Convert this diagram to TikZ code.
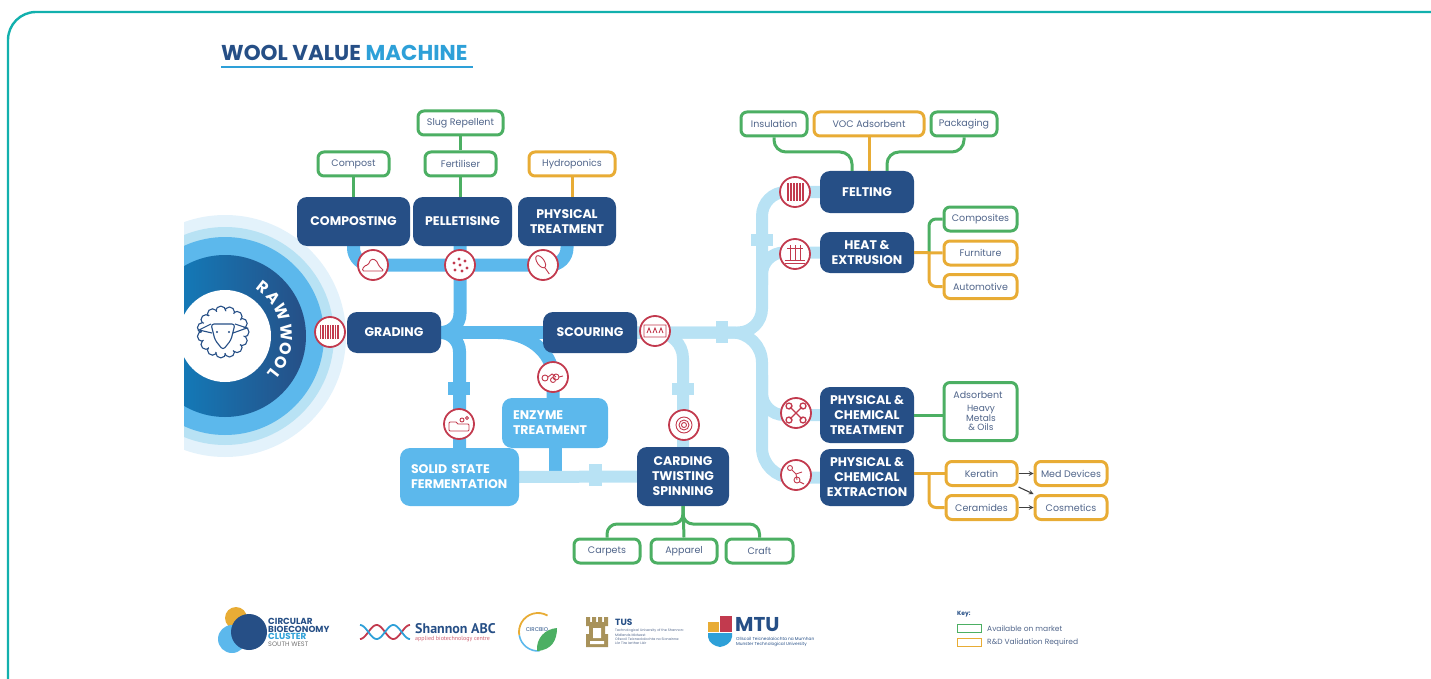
\documentclass[tikz,border=0pt]{standalone}
\usepackage{fontspec}
\setmainfont{Poppins}
\newfontfamily\logofont{PT Sans}
\usetikzlibrary{backgrounds,calc}
\definecolor{frameteal}{HTML}{12B0AD}
\definecolor{stepnavy}{HTML}{264F86}
\definecolor{pipemid}{HTML}{5CB8EC}
\definecolor{pipelight}{HTML}{B8E2F4}
\definecolor{ringpale}{HTML}{E3F2FB}
\definecolor{ringbright}{HTML}{0E86C6}
\definecolor{goodgreen}{HTML}{4CAF63}
\definecolor{rdorange}{HTML}{E8AC35}
\definecolor{iconred}{HTML}{C23A4E}
\definecolor{prodtext}{HTML}{50658A}
\definecolor{titleblue}{HTML}{2EA0D8}
\definecolor{tusgold}{HTML}{A8925A}
\tikzset{
  stepbox/.style={fill=stepnavy,rounded corners=10,text=white,align=center,inner sep=0,font=\fontsize{12.5}{15}\selectfont\bfseries},
  lightbox/.style={fill=pipemid,rounded corners=10,text=white,align=left,inner sep=0,font=\fontsize{12.5}{15}\selectfont\bfseries},
  goodbox/.style={draw=goodgreen,fill=white,line width=3,rounded corners=6,minimum width=#1,minimum height=24,text=prodtext,align=center,inner sep=0,font=\fontsize{9.5}{11}\selectfont},
  rdbox/.style={goodbox=#1,draw=rdorange},
  iconring/.style={draw=iconred,fill=white,line width=1.8,circle,minimum size=30,inner sep=0},
  iconink/.style={draw=iconred,line width=0.9},
  pipeA/.style={draw=pipemid,line width=13},
  pipeB/.style={draw=pipelight,line width=12},
  flangeA/.style={fill=pipemid,minimum width=#1,inner sep=0},
  flangeB/.style={fill=pipelight,minimum width=#1,inner sep=0},
  goodline/.style={draw=goodgreen,line width=3},
  rdline/.style={draw=rdorange,line width=3},
  keyline/.style={draw=black!75,line width=1.1,-stealth},
  tiny/.style={inner sep=0,anchor=west,text=#1,align=left}
}
\begin{document}
\begin{tikzpicture}[x=1pt,y=-1pt]
\useasboundingbox (0,0) rectangle (1431,679);
% frame and title
\draw[frameteal,line width=2.4,rounded corners=28] (8,690) -- (8,12) -- (1440,12);
\node[anchor=west,inner sep=0,font=\fontsize{21.5}{24}\selectfont\bfseries] (title) at (221,53) {\textcolor{stepnavy}{WOOL VALUE} \textcolor{titleblue}{MACHINE}};
\coordinate (ruleL) at (221,67);
\coordinate (ruleR) at (473,67);
\draw[titleblue,line width=2] (ruleL) -- (ruleR);
% raw wool disc
\coordinate (woolc) at (225,336);
\begin{scope}
\clip (184,200) rectangle (360,470);
\fill[ringpale] (woolc) circle[radius=121];
\fill[pipelight] (woolc) circle[radius=109];
\fill[pipemid] (woolc) circle[radius=99];
\shade[left color=ringbright,right color=stepnavy] (woolc) circle[radius=81];
\fill[white] (woolc) circle[radius=46];
\end{scope}
\foreach \letter/\ang in {R/52,A/38,W/23,W/3,O/-12,O/-25,L/-38}
  \node[text=white,inner sep=0,rotate=\ang-90,font=\fontsize{16}{16}\selectfont\bfseries] at ($(woolc)+(\ang:62pt)$) {\letter};
% sheep
\coordinate (sheep) at (223,332);
\foreach \ang in {0,24,...,336}
  \draw[stepnavy,line width=1.1,fill=white] ($(sheep)+(\ang:21pt)$) circle[radius=5];
\fill[white] (sheep) circle[radius=21];
\draw[stepnavy,line width=1.1,fill=white,rounded corners=3] (211,324) -- (235,324) -- (231,340) -- (223,350) -- (215,340) -- cycle;
\draw[stepnavy,line width=1.1] (211,324) -- (199,330) -- (212,333);
\draw[stepnavy,line width=1.1] (235,324) -- (247,328) -- (233,333);
\fill[stepnavy] (217,332) circle[radius=1.1] (229,332) circle[radius=1.1];
% main steps
\node[stepbox,minimum width=113,minimum height=49] (composting) at (353.5,221.5) {COMPOSTING};
\node[stepbox,minimum width=99,minimum height=49] (pelletising) at (462.5,221.5) {PELLETISING};
\node[stepbox,minimum width=98,minimum height=49] (physical) at (567,221.5) {PHYSICAL\\TREATMENT};
\node[stepbox,minimum width=94,minimum height=41] (grading) at (394,332.5) {GRADING};
\node[stepbox,minimum width=94,minimum height=41] (scouring) at (590,332.5) {SCOURING};
\node[lightbox,minimum height=50,minimum width=106,text width=84] (enzyme) at (555,423) {ENZYME\\TREATMENT};
\node[lightbox,minimum height=58,minimum width=119,text width=97] (solid) at (459.5,477) {SOLID STATE\\FERMENTATION};
\node[stepbox,minimum width=92,minimum height=59] (carding) at (683,476.5) {CARDING\\TWISTING\\SPINNING};
\node[stepbox,minimum width=94,minimum height=42] (felting) at (867,192) {FELTING};
\node[stepbox,minimum width=94,minimum height=41] (heat) at (867,252.5) {HEAT \&\\EXTRUSION};
\node[stepbox,minimum width=94,minimum height=56] (ptreat) at (867,415) {PHYSICAL \&\\CHEMICAL\\TREATMENT};
\node[stepbox,minimum width=94,minimum height=57] (pextract) at (867,477.5) {PHYSICAL \&\\CHEMICAL\\EXTRACTION};
% products
\node[goodbox=71] (compost) at (353.5,164) {Compost};
\node[goodbox=71] (fertiliser) at (460.5,164) {Fertiliser};
\node[goodbox=85] (slug) at (460.5,123) {Slug Repellent};
\node[rdbox=86] (hydro) at (572,164) {Hydroponics};
\node[goodbox=66] (insulation) at (774,124) {Insulation};
\node[rdbox=110] (voc) at (869,124) {VOC Adsorbent};
\node[goodbox=66] (packaging) at (964,124) {Packaging};
\node[goodbox=73] (composites) at (980.5,219) {Composites};
\node[rdbox=73] (furniture) at (980.5,253) {Furniture};
\node[rdbox=73] (automotive) at (980.5,286.5) {Automotive};
\node[goodbox=73,minimum height=58] (adsorbent) at (980.5,411.5) {};
\node[inner sep=0,text=prodtext,font=\fontsize{9.5}{11}\selectfont] (adslabel) at (978,395) {Adsorbent};
\node[inner sep=0,text=prodtext,align=center,font=\fontsize{9}{8.5}\selectfont] (heavylabel) at (981,418) {Heavy\\Metals\\\& Oils};
\node[rdbox=71] (keratin) at (981.5,473.5) {Keratin};
\node[rdbox=71] (ceramides) at (981.5,507.5) {Ceramides};
\node[rdbox=72] (meddev) at (1071,473.5) {Med Devices};
\node[rdbox=72] (cosmetics) at (1071,507.5) {Cosmetics};
\node[goodbox=66] (carpets) at (607,551) {Carpets};
\node[goodbox=66] (apparel) at (684,551) {Apparel};
\node[goodbox=67] (craft) at (759.5,551) {Craft};
% flanges
\begin{pgfonlayer}{background}
\node[flangeA=22,minimum height=13] (flangeSolid) at (459,388) {};
\node[flangeB=13,minimum height=22] (flangeSpin) at (595,475) {};
\node[flangeB=12,minimum height=22] (flangeFork) at (722,332) {};
\node[flangeB=22,minimum height=12] (flangeCard) at (683,389) {};
\node[flangeB=22,minimum height=12] (flangeRise) at (762,240) {};
% pipes
\coordinate (branchenz) at (498,332.5);
\coordinate (enzfoot) at (555,471);
\coordinate (feltbend) at (762,192);
\coordinate (extbend) at (762,477.5);
\coordinate (heatfork) at (762,285);
\coordinate (treatfork) at (762,375);
\draw[pipeA,rounded corners=17] (composting.south) |- (460,265) -| (physical.south);
\draw[pipeA,rounded corners=19] (460,246) |- (grading.east);
\draw[pipeA] (grading.east) -- (scouring.west);
\draw[pipeA,rounded corners=19] (grading.east) -| (solid.north);
\draw[pipeA] (branchenz) to[out=0,in=90] (553,378) -- (553,398);
\draw[pipeA] (enzyme.south) -- (enzfoot);
\draw[pipeB] (solid.east) -- (carding.west);
\draw[pipeB,rounded corners=24] (scouring.east) -| (feltbend) -- (felting.west);
\draw[pipeB,rounded corners=30] (scouring.east) -| (extbend) -- (pextract.west);
\draw[pipeB,rounded corners=22] (heatfork) |- (heat.west);
\draw[pipeB,rounded corners=22] (treatfork) |- (ptreat.west);
\draw[pipeB,rounded corners=26] (scouring.east) -| (carding.north);
\end{pgfonlayer}
% output lines
\draw[goodline] (compost) -- (composting);
\draw[goodline] (slug) -- (fertiliser);
\draw[goodline] (fertiliser.south) -- (460.5,197);
\draw[rdline] (hydro.south) -- (572,197);
\draw[rdline] (voc.south) -- (felting.north -| voc.south);
\draw[goodline,rounded corners=12] (insulation.south) |- (852,152) -- (852,171);
\draw[goodline,rounded corners=12] (packaging.south) |- (887,152) -- (887,171);
\draw[goodline,rounded corners=7] (929,253) |- (composites.west);
\draw[rdline] (heat.east) -- (furniture.west);
\draw[rdline,rounded corners=7] (929,253) |- (automotive.west);
\draw[goodline] (ptreat.east) -- (adsorbent.west |- ptreat.east);
\draw[rdline] (pextract.east |- keratin.west) -- (keratin.west);
\draw[rdline,rounded corners=7] (929,473.5) |- (ceramides.west);
\draw[keyline] (keratin.east) -- (meddev.west);
\draw[keyline] (keratin.south east) -- (cosmetics.north west);
\draw[keyline] (ceramides.east) -- (cosmetics.west);
\draw[goodline] (carding.south) -- (apparel.north);
\draw[goodline,rounded corners=10] (carding.south) -- (683,524) -- (607,524) -- (carpets.north);
\draw[goodline,rounded corners=10] (carding.south) -- (683,524) -- (759.5,524) -- (craft.north);
% icon rings
\node[iconring] (iccompost) at (373,265) {};
\node[iconring] (icpellet) at (460,265) {};
\node[iconring] (icphysical) at (543,265) {};
\node[iconring] (icgrading) at (330,332) {};
\node[iconring] (icenzyme) at (553,377) {};
\node[iconring] (icsolid) at (459,424) {};
\node[iconring] (icscour) at (655,331) {};
\node[iconring] (iccarding) at (684,425) {};
\node[iconring] (icfelt) at (795,192) {};
\node[iconring] (icheat) at (795,254) {};
\node[iconring] (icptreat) at (796,413) {};
\node[iconring] (icpextract) at (796,475) {};
\draw[iconink,rounded corners=1.5,shift={(iccompost)}] (-11,6) -- (-9,1) -- (-5,0) -- (-2,-6) -- (3,-5) -- (6,1) -- (11,6) -- cycle;
\foreach \dotx/\doty in {-6/-2,-1/-6,5/-4,0/0,7/3,-5/5,2/6}
  \fill[iconred,shift={(icpellet)}] (\dotx,\doty) circle[radius=1.6];
\draw[iconink,shift={(icphysical)},rotate=-55] (-4,0) ellipse[x radius=7,y radius=3.5] (3,0) -- (11,0);
\foreach \barx/\barw in {-10/1,-8/1.6,-5/1,-3/2,0/1,2/2,5/1,7/1.6}
  \fill[iconred,shift={(icgrading)}] (\barx,-7) rectangle ++(\barw,14);
\draw[iconink,shift={(icenzyme)}] (-8,1) circle[radius=3] (-5,0) -- (-1,-3) -- (3,0) circle[radius=3] (6,0) -- (10,-1) (0,3) circle[radius=2.5];
\draw[iconink,shift={(icsolid)},rounded corners=1] (-10,-2) -- (-10,7) -- (10,7) -- (10,0) -- (-2,0) -- (-2,-2) -- cycle (3,-4) circle[radius=2] (8,-6) circle[radius=1.5];
\draw[iconink,shift={(icscour)}] (-11,-6) rectangle (11,6) (-8,2) -- (-6,-3) -- (-4,2) (-2,2) -- (0,-3) -- (2,2) (4,2) -- (6,-3) -- (8,2);
\draw[iconink,shift={(iccarding)}] (0,0) circle[radius=2.5] circle[radius=5] circle[radius=8];
\foreach \barx in {-8,-5,...,7}
  \fill[iconred,shift={(icfelt)}] (\barx,-9) rectangle ++(2.3,18);
\draw[iconink,shift={(icheat)}] (-5,-9) -- (-5,6) (0,-9) -- (0,6) (5,-9) -- (5,6) (-8,-6) -- (8,-6) (-10,6) -- (10,6) (-10,9) -- (10,9);
\draw[iconink,shift={(icptreat)},line width=1.3] (-6,-6) -- (6,6) (6,-6) -- (-6,6) (-7,-7) circle[radius=3] (7,-7) circle[radius=3] (-7,7) circle[radius=3] (7,7) circle[radius=3];
\draw[iconink,shift={(icpextract)}] (-6,-7) circle[radius=2.5] (-4,-5) -- (0,-1) -- (6,-3) (0,-1) -- (1,5) circle[radius=3] (4,7) -- (8,9);
% logos
\fill[rdorange] (236,618) circle[radius=11];
\fill[pipemid] (232,639) circle[radius=14];
\fill[stepnavy] (249,632) circle[radius=18];
\node[tiny=stepnavy,font=\fontsize{8.8}{9}\selectfont\bfseries] (lgcircular) at (268,621.5) {CIRCULAR};
\node[tiny=stepnavy,font=\fontsize{8.8}{9}\selectfont\bfseries] (lgbio) at (268,629) {BIOECONOMY};
\node[tiny=titleblue,font=\fontsize{8.8}{9}\selectfont\bfseries] (lgcluster) at (268,636.5) {CLUSTER};
\node[tiny=black!55,font=\fontsize{6.5}{7}\selectfont] (lgsouth) at (268,644) {SOUTH WEST};
\draw[iconred,line width=1.8] plot[domain=0:540,samples=50] ({360+\x/540*50},{632+7*cos(\x)});
\draw[titleblue,line width=1.8] plot[domain=0:540,samples=50] ({360+\x/540*50},{632-7*cos(\x)});
\node[tiny=stepnavy,font=\logofont\fontsize{14}{15}\selectfont\bfseries] (lgshannon) at (415,629) {Shannon ABC};
\node[tiny=iconred!80,font=\logofont\fontsize{6}{7}\selectfont] (lgcentre) at (415,639.5) {applied biotechnology centre};
\coordinate (circbio) at (538,632);
\draw[rdorange,line width=1.8] (circbio) ++(300:19) arc[start angle=300,end angle=170,radius=19];
\draw[pipemid,line width=1.6] (circbio) ++(170:19) arc[start angle=170,end angle=85,radius=19];
\fill[goodgreen] (537,651) .. controls (552,650) and (557,640) .. (557,628) .. controls (545,629) and (536,638) .. (537,651);
\node[inner sep=0,text=stepnavy,font=\fontsize{5.5}{6}\selectfont] (lgcircbio) at (537,630) {CIRCBIO};
\fill[tusgold] (586,617) rectangle (590,622) (592,617) rectangle (596,622) (598,617) rectangle (602,622) (604,617) rectangle (608,622) (586,622) rectangle (608,626) (589,626) rectangle (605,634) (586,634) rectangle (608,647);
\fill[white] (593,628) rectangle (601,638) (590,641) rectangle (604,644);
\node[tiny=stepnavy,font=\fontsize{9}{10}\selectfont\bfseries] (lgtus) at (615,622) {TUS};
\node[tiny=prodtext,font=\fontsize{3.4}{4.4}\selectfont] (lgtustext) at (615,637) {Technological University of the Shannon:\\Midlands Midwest\\Ollscoil Teicneolaíochta na Sionainne:\\Lár Tíre Iarthar Láir};
\fill[rdorange] (708,622) rectangle (719,632);
\fill[iconred] (720,616) rectangle (732,632);
\fill[titleblue] (708,633) -- (732,633) -- (732,637) .. controls (731,643) and (726,646) .. (720,647) .. controls (714,646) and (709,643) .. (708,637) -- cycle;
\node[tiny=stepnavy,font=\fontsize{20}{22}\selectfont\bfseries] (lgmtu) at (735,625) {MTU};
\node[tiny=stepnavy,font=\fontsize{4.3}{5.2}\selectfont] (lgmtutext) at (736,642) {Ollscoil Teicneolaíochta na Mumhan\\Munster Technological University};
% key
\node[tiny=stepnavy,font=\fontsize{6}{7}\selectfont\bfseries] (keytitle) at (957,614) {Key:};
\node[draw=goodgreen,line width=1.6,minimum width=24,minimum height=8,inner sep=0] (keygreen) at (969.5,628.5) {};
\node[draw=rdorange,line width=1.6,minimum width=24,minimum height=8,inner sep=0] (keyorange) at (969.5,642.5) {};
\node[tiny=prodtext,font=\fontsize{7.5}{8}\selectfont] (keygood) at (987,628.5) {Available on market};
\node[tiny=prodtext,font=\fontsize{7.5}{8}\selectfont] (keyrd) at (987,642.5) {R\&D Validation Required};
\end{tikzpicture}
\end{document}
